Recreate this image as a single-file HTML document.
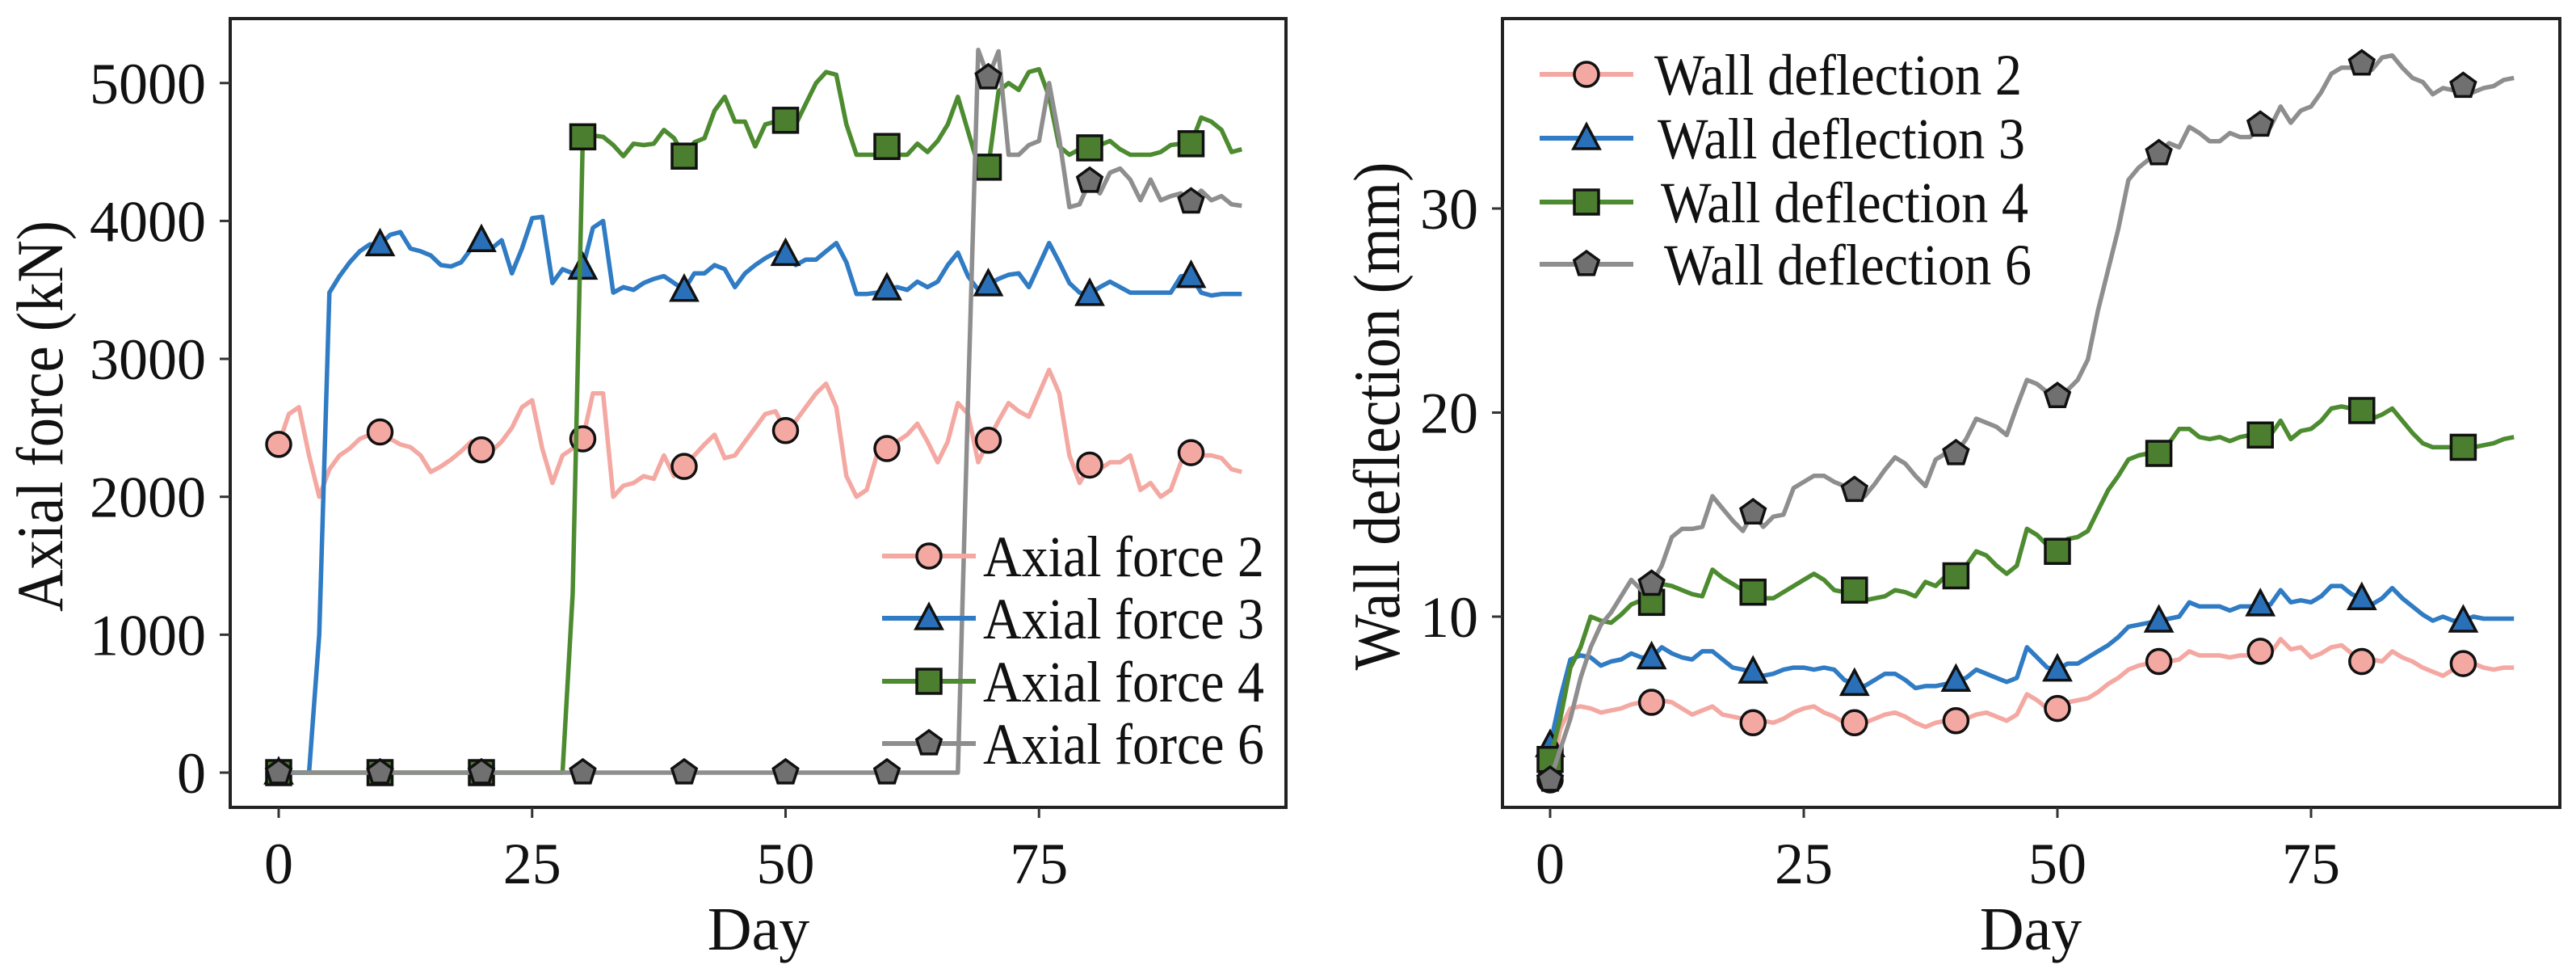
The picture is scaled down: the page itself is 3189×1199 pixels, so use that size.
<!DOCTYPE html>
<html><head><meta charset="utf-8"><style>
html,body{margin:0;padding:0;background:#fff;}
svg{display:block;font-family:"Liberation Serif",serif;}
</style></head><body>
<svg id="root" width="3189" height="1199" viewBox="0 0 3189 1199">
<rect width="3189" height="1199" fill="#fff"/>
</svg>
<script>
const days = Array.from({length:96},(_,i)=>i);
const af2 = [2380,2600,2650,2300,2000,2200,2300,2350,2420,2450,2470,2420,2380,2360,2300,2180,2220,2270,2330,2400,2340,2330,2400,2500,2650,2700,2350,2100,2300,2350,2420,2750,2750,2000,2080,2100,2150,2130,2300,2150,2220,2300,2380,2450,2280,2300,2400,2500,2600,2620,2480,2550,2650,2750,2820,2650,2150,2000,2050,2300,2350,2400,2450,2530,2400,2250,2400,2680,2600,2250,2410,2550,2680,2620,2580,2750,2920,2750,2300,2100,2230,2200,2250,2250,2300,2050,2100,2000,2050,2250,2320,2300,2300,2280,2200,2180];
const af3 = [0,0,0,0,1000,3480,3600,3700,3780,3830,3830,3900,3920,3800,3780,3750,3680,3670,3700,3800,3860,3800,3860,3620,3800,4020,4030,3550,3650,3620,3660,3950,4000,3480,3520,3500,3550,3580,3600,3550,3500,3620,3620,3680,3650,3520,3620,3680,3730,3770,3760,3680,3720,3720,3780,3840,3700,3470,3470,3480,3510,3520,3500,3560,3520,3560,3680,3770,3600,3500,3540,3580,3610,3620,3520,3680,3840,3700,3550,3480,3470,3520,3560,3520,3480,3480,3480,3480,3480,3600,3600,3480,3460,3470,3470,3470];
const af4 = [0,0,0,0,0,0,0,0,0,0,0,0,0,0,0,0,0,0,0,0,0,0,0,0,0,0,0,0,0,1300,4610,4620,4610,4550,4470,4560,4550,4560,4660,4600,4470,4570,4600,4800,4900,4720,4720,4540,4700,4720,4730,4700,4850,5000,5080,5060,4700,4480,4480,4480,4540,4480,4480,4560,4500,4580,4700,4900,4650,4400,4390,4940,5000,4950,5080,5100,4900,4540,4480,4520,4530,4550,4580,4520,4480,4480,4480,4500,4550,4560,4560,4750,4720,4660,4500,4520];
const af6 = [0,0,0,0,0,0,0,0,0,0,0,0,0,0,0,0,0,0,0,0,0,0,0,0,0,0,0,0,0,0,0,0,0,0,0,0,0,0,0,0,0,0,0,0,0,0,0,0,0,0,0,0,0,0,0,0,0,0,0,0,0,0,0,0,0,0,0,0,2700,5240,5040,5230,4480,4480,4550,4580,5000,4600,4100,4120,4290,4200,4350,4380,4300,4150,4300,4150,4180,4200,4140,4220,4150,4180,4120,4110];
const wd2 = [2.0,4.5,5.5,5.6,5.5,5.3,5.4,5.5,5.7,5.8,5.8,5.9,5.8,5.5,5.2,5.4,5.6,5.2,5.1,5.0,4.8,4.9,4.8,5.0,5.3,5.5,5.6,5.3,5.1,4.8,4.8,4.8,5.0,5.2,5.3,5.1,4.8,4.6,4.8,4.9,4.9,5.0,5.2,5.3,5.1,4.9,5.2,6.2,5.9,5.5,5.5,5.8,5.9,6.0,6.3,6.7,7.0,7.4,7.6,7.7,7.8,7.8,7.9,8.3,8.1,8.1,8.1,8.0,8.1,8.1,8.3,8.2,8.9,8.4,8.5,8.0,8.2,8.5,8.6,8.2,7.8,7.9,7.8,8.3,8.0,7.8,7.5,7.3,7.1,7.4,7.7,7.7,7.5,7.4,7.5,7.5];
const wd3 = [3.7,6,7.9,8.1,8.0,7.6,7.8,7.9,8.2,8.0,8.0,8.5,8.2,8.0,7.9,8.3,8.3,7.9,7.5,7.4,7.3,7.1,7.2,7.4,7.5,7.5,7.4,7.5,7.4,6.9,6.7,6.6,6.9,7.2,7.2,6.9,6.5,6.6,6.6,6.7,6.9,7.0,7.4,7.2,7.0,6.8,7.0,8.5,8.0,7.5,7.4,7.7,7.7,8.0,8.3,8.6,9.0,9.5,9.6,9.7,9.8,9.9,10.0,10.7,10.5,10.5,10.5,10.3,10.5,10.5,10.6,10.6,11.3,10.7,10.8,10.7,11.0,11.5,11.5,11.1,10.9,10.6,10.9,11.4,10.9,10.5,10.1,9.8,10.0,9.8,9.8,10.0,9.9,9.9,9.9,9.9];
const wd4 = [3.0,5,7.5,8.5,10.0,9.8,9.7,10.1,10.6,10.8,10.7,11.6,11.5,11.3,11.1,11.0,12.3,11.9,11.6,11.3,11.2,10.9,10.9,11.2,11.5,11.8,12.1,11.8,11.3,11.2,11.3,10.8,10.9,11.0,11.3,11.2,11.0,11.7,11.5,12.0,12.0,12.5,13.2,13.0,12.5,12.1,12.5,14.3,14.0,13.5,13.2,13.8,13.9,14.2,15.2,16.2,16.9,17.7,17.9,18.0,18.0,18.5,19.2,19.2,18.8,18.7,18.8,18.6,18.8,18.9,18.9,18.9,19.6,18.7,19.1,19.2,19.6,20.2,20.3,20.2,20.1,19.7,19.9,20.2,19.6,19.0,18.5,18.3,18.3,18.3,18.3,18.3,18.4,18.5,18.7,18.8];
const wd6 = [2.0,3.5,5,7,8.5,9.6,10.2,11.0,11.8,11.3,11.6,12.5,13.9,14.3,14.3,14.4,15.9,15.3,14.7,14.2,15.1,14.4,14.9,15.0,16.3,16.6,16.9,16.9,16.6,16.4,16.2,15.9,16.5,17.2,17.8,17.5,16.9,16.4,17.7,18.0,18.0,18.7,19.7,19.5,19.3,18.9,20.3,21.6,21.4,21.0,20.8,21.1,21.6,22.6,25.0,27.0,29.0,31.4,32.0,32.4,32.7,33.2,33.0,34.0,33.7,33.3,33.3,33.7,33.5,33.5,34.1,34.0,35.0,34.2,34.8,35.0,35.7,36.6,36.9,36.9,37.1,36.8,37.4,37.5,36.9,36.4,36.2,35.6,35.9,35.8,36.0,35.7,35.9,36.0,36.3,36.4];
const xTicks = [0,25,50,75];
const leftYTicks = [0,1000,2000,3000,4000,5000];
const rightYTicks = [10,20,30];
const leftNames = ["Axial force 2","Axial force 3","Axial force 4","Axial force 6"];
const rightNames = ["Wall deflection 2","Wall deflection 3","Wall deflection 4","Wall deflection 6"];

const NS="http://www.w3.org/2000/svg";
const root=document.getElementById('root');
function mk(tag,attrs,parent){const e=document.createElementNS(NS,tag);for(const k in attrs)e.setAttribute(k,attrs[k]);(parent||root).appendChild(e);return e;}
const lineCols=["#f4a8a2","#2f7bc4","#4d8b30","#8e8e8e"];
const fillCols=["#f4a8a2","#2a70b8","#4b7f2f","#707070"];
const shapes=["circle","triangle","square","pentagon"];

function marker(g,shape,cx,cy,fill){
  let e;
  if(shape==="circle"){e=mk('circle',{cx:cx,cy:cy,r:15},g);}
  else if(shape==="square"){e=mk('rect',{x:cx-15,y:cy-15,width:30,height:30},g);}
  else if(shape==="triangle"){e=mk('polygon',{points:`${cx},${cy-17} ${cx+16},${cy+13} ${cx-16},${cy+13}`},g);}
  else{let p=[];for(let i=0;i<5;i++){const a=-Math.PI/2+i*2*Math.PI/5;p.push((cx+16*Math.cos(a)).toFixed(1)+','+(cy+16*Math.sin(a)).toFixed(1));}e=mk('polygon',{points:p.join(' ')},g);}
  e.setAttribute('fill',fill);e.setAttribute('stroke','#111');e.setAttribute('stroke-width','3.5');
  return e;
}

function panel(cfg){
  const g=mk('g',{});
  
  
  const X=d=>cfg.x0+d*cfg.dx;
  const Y=v=>cfg.y0-(v-cfg.vmin)*cfg.dy;
  cfg.series.forEach((s,si)=>{
    const sg=mk('g',{},g);
    
    
    const pts=s.map((v,i)=>X(days[i]).toFixed(1)+','+Y(v).toFixed(1)).join(' ');
    const pl=mk('polyline',{points:pts,fill:'none',stroke:lineCols[si],'stroke-width':5.5,'stroke-linejoin':'round'},sg);
    
    
    for(let i=0;i<s.length;i+=10){
      const m=marker(sg,shapes[si],X(days[i]),Y(s[i]),fillCols[si]);
      
      
    }
  });
  const fr=mk('rect',{x:cfg.bx0,y:cfg.by0,width:cfg.bx1-cfg.bx0,height:cfg.by1-cfg.by0,fill:'none',stroke:'#222','stroke-width':4},g);
  
  
  xTicks.forEach(t=>{
    const x=X(t);
    const tk=mk('line',{x1:x,y1:cfg.by1,x2:x,y2:cfg.by1+13,stroke:'#333','stroke-width':3},g);
    
    
    const tx=mk('text',{x:x,y:1093,'text-anchor':'middle','font-size':72,fill:'#111'},g);
    tx.textContent=t;
    
    
  });
  cfg.yTicks.forEach(t=>{
    const y=Y(t);
    const tk=mk('line',{x1:cfg.bx0-13,y1:y,x2:cfg.bx0,y2:y,stroke:'#333','stroke-width':3},g);
    
    
    const tx=mk('text',{x:cfg.bx0-30,y:y+25,'text-anchor':'end','font-size':72,fill:'#111'},g);
    tx.textContent=t;
    
    
  });
  const xl=mk('text',{x:cfg.xlabX,y:1175,'text-anchor':'middle','font-size':76,fill:'#111'},g);
  xl.textContent='Day';
  
  
  const yl=mk('text',{x:0,y:0,'text-anchor':'middle','font-size':82,fill:'#111',textLength:cfg.ylabLen,lengthAdjust:'spacingAndGlyphs',transform:`translate(${cfg.ylabX},515) rotate(-90)`},g);
  yl.textContent=cfg.ylab;
  
  
  const lg=mk('g',{},g);
  
  
  cfg.names.forEach((n,i)=>{
    const y=cfg.legY[i];
    const eg=mk('g',{},lg);
    
    
    mk('line',{x1:cfg.legX,y1:y,x2:cfg.legX+116,y2:y,stroke:lineCols[i],'stroke-width':6},eg);
    marker(eg,shapes[i],cfg.legX+58,y,fillCols[i]);
    const t=mk('text',{x:cfg.legTX[i],y:y+25,'font-size':72,fill:'#111',textLength:cfg.legLen,lengthAdjust:'spacingAndGlyphs'},eg);
    t.textContent=n;
  });
}

panel({name:'axial-force-chart',prefix:'axial',ids:['2','3','4','6'],series:[af2,af3,af4,af6],
  x0:345,dx:12.55,y0:956,vmin:0,dy:0.17065,bx0:285,bx1:1592,by0:23,by1:999,
  yTicks:leftYTicks,xlabX:939,ylabX:77,ylabLen:484,ylab:'Axial force (kN)',names:leftNames,
  legX:1092,legY:[688,765,843,920],legTX:[1217,1217,1217,1217],legLen:348});
panel({name:'wall-deflection-chart',prefix:'wall',ids:['2','3','4','6'],series:[wd2,wd3,wd4,wd6],
  x0:1919,dx:12.56,y0:763,vmin:10,dy:25.25,bx0:1860,bx1:3169,by0:23,by1:999,
  yTicks:rightYTicks,xlabX:2514,ylabX:1732,ylabLen:629,ylab:'Wall deflection (mm)',names:rightNames,
  legX:1906,legY:[92,171,250,327],legTX:[2048,2052,2056,2060],legLen:455});
</script>
</body></html>
